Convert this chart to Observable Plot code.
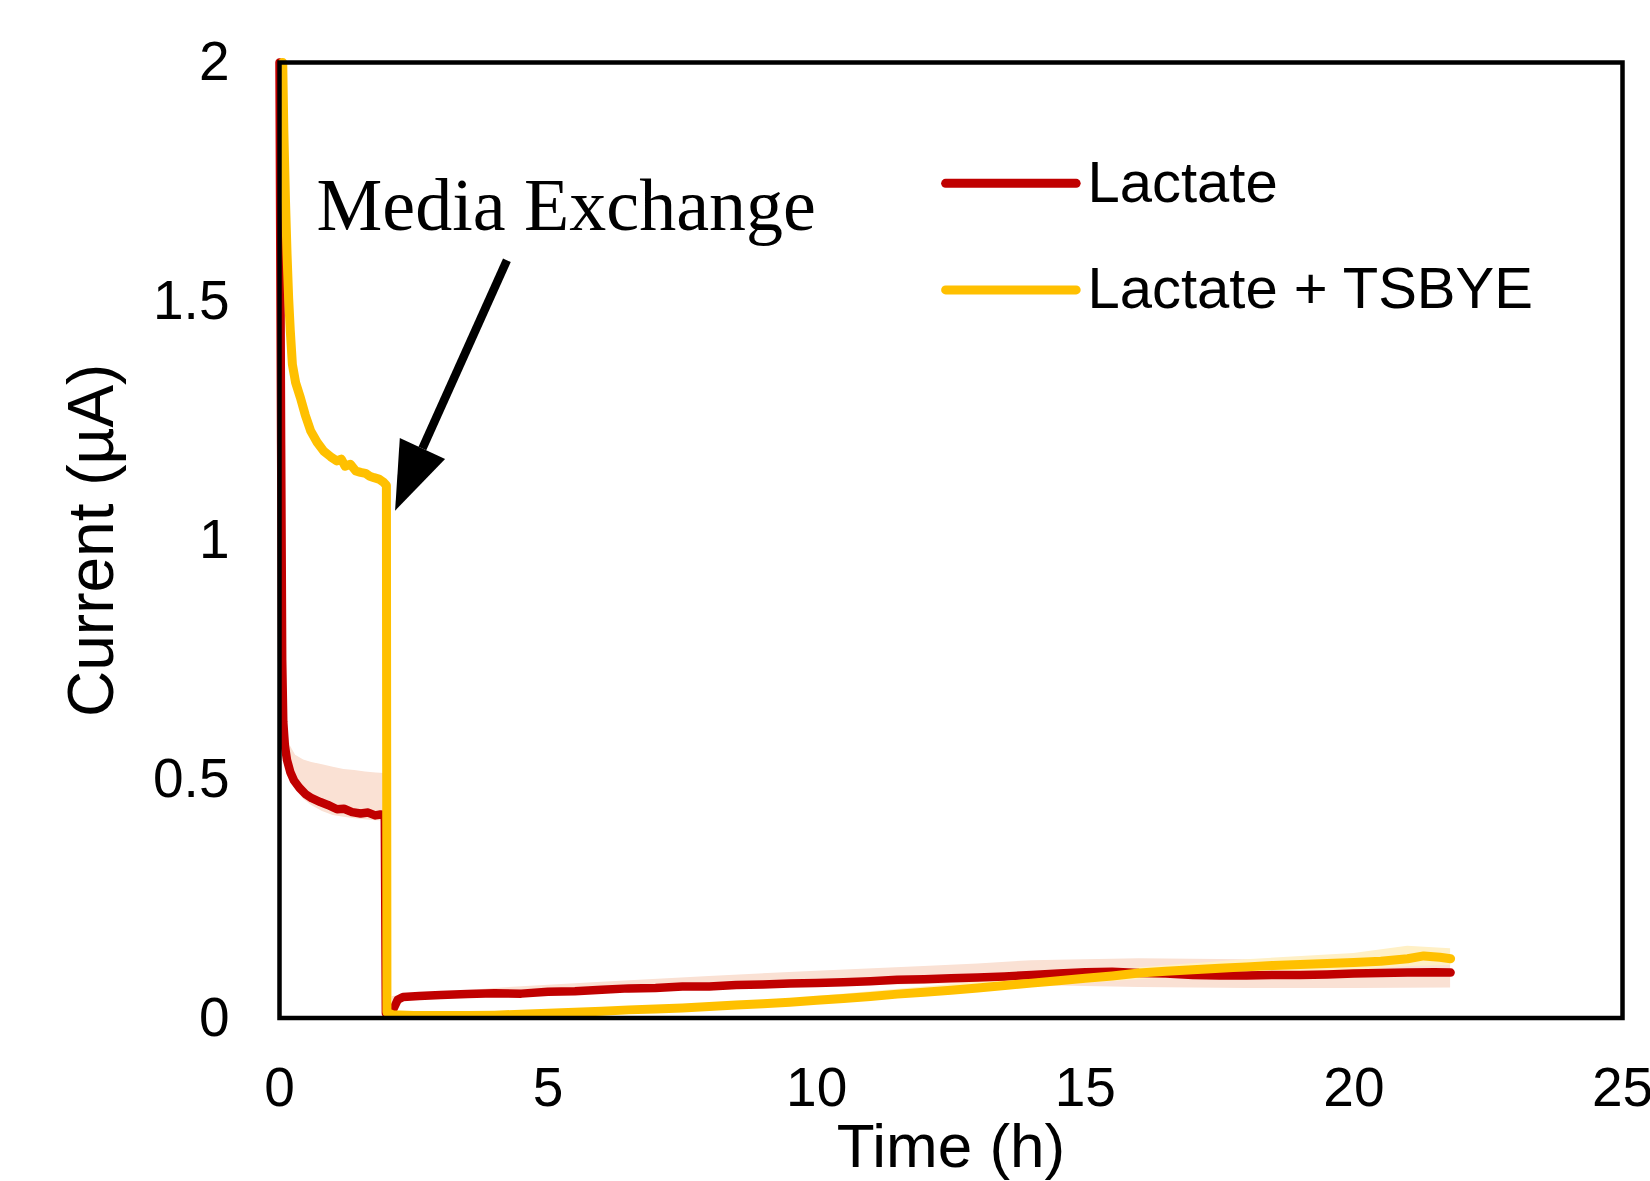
<!DOCTYPE html>
<html>
<head>
<meta charset="utf-8">
<script src="https://cdn.jsdelivr.net/npm/d3@7"></script>
<script src="https://cdn.jsdelivr.net/npm/@observablehq/plot@0.6"></script>
<style>
  html, body { margin: 0; padding: 0; background: #fff; }
  svg { display: block; }
</style>
</head>
<body>
<div id="chart"></div>
<script>
// ---------- Data ----------
const seriesNames = ["Lactate", "Lactate + TSBYE"];
const seriesColors = ["#C00000", "#FFC000"];
const bandColors = ["#FAE1D4", "#FFF0C6"];

// Lactate (red) mean current, µA
const lactateTime = [0, 0.03, 0.05, 0.07, 0.1, 0.14, 0.2, 0.27, 0.37, 0.48, 0.6, 0.76, 0.9, 1.07, 1.2, 1.35, 1.51, 1.65, 1.78, 1.88, 1.96,
  1.98, 2.1, 2.2, 2.3, 2.6, 3.0, 3.5, 4.0, 4.5, 5.0, 5.5, 6.0, 6.5, 7.0, 7.5, 8.0, 8.5, 9.0, 9.5, 10.0, 10.5, 11.0, 11.5, 12.0, 12.5,
  13.0, 13.5, 14.0, 14.5, 15.0, 15.5, 16.0, 16.5, 17.0, 17.5, 18.0, 18.5, 19.0, 19.5, 20.0, 20.5, 21.0, 21.5, 21.8];
const lactateCurrent = [2.0, 1.2, 0.75, 0.62, 0.57, 0.54, 0.515, 0.497, 0.482, 0.469, 0.46, 0.452, 0.446, 0.437, 0.438, 0.431, 0.428, 0.43, 0.424, 0.426, 0.425,
  0.01, 0.014, 0.038, 0.044, 0.046, 0.048, 0.05, 0.052, 0.051, 0.055, 0.056, 0.059, 0.062, 0.063, 0.066, 0.066, 0.069, 0.07, 0.072, 0.073, 0.075, 0.077, 0.08, 0.081, 0.083,
  0.085, 0.087, 0.09, 0.093, 0.096, 0.097, 0.094, 0.093, 0.09, 0.089, 0.089, 0.09, 0.09, 0.091, 0.093, 0.094, 0.095, 0.096, 0.095];

// Lactate spread band
const lactateBandTime = [0.06, 0.1, 0.15, 0.2, 0.3, 0.45, 0.6, 0.8, 1.0, 1.2, 1.4, 1.6, 1.8, 1.96,
  2.1, 4, 6, 8, 10, 12, 13, 14, 16, 18, 20, 21.8];
const lactateBandHigh = [0.66, 0.64, 0.6, 0.57, 0.55, 0.54, 0.535, 0.53, 0.525, 0.52, 0.518, 0.515, 0.513, 0.512,
  0.045, 0.062, 0.075, 0.087, 0.098, 0.108, 0.113, 0.12, 0.124, 0.122, 0.124, 0.124];
const lactateBandLow = [0.6, 0.55, 0.52, 0.5, 0.48, 0.458, 0.445, 0.432, 0.424, 0.42, 0.417, 0.415, 0.413, 0.413,
  0.035, 0.046, 0.053, 0.06, 0.066, 0.07, 0.072, 0.068, 0.064, 0.062, 0.062, 0.063];
const lactateBandSegment = [0,0,0,0,0,0,0,0,0,0,0,0,0,0, 1,1,1,1,1,1,1,1,1,1,1,1];

// Lactate + TSBYE (yellow) mean current, µA
const tsbyeTime = [0.06, 0.08, 0.11, 0.14, 0.17, 0.2, 0.24, 0.3, 0.39, 0.48, 0.58, 0.7, 0.82, 0.95, 1.07, 1.15, 1.22, 1.32, 1.42, 1.51, 1.6, 1.68, 1.76, 1.85, 1.93, 1.99,
  2.0, 2.1, 2.5, 3, 3.5, 4, 4.5, 5, 5.5, 6, 6.5, 7, 7.5, 8, 8.5, 9, 9.5, 10, 10.5, 11, 11.5, 12, 12.5, 13, 13.5, 14, 14.5, 15, 15.5, 16,
  16.5, 17, 17.5, 18, 18.5, 19, 19.5, 20, 20.5, 21, 21.3, 21.6, 21.8];
const tsbyeCurrent = [2.0, 1.86, 1.716, 1.6, 1.507, 1.44, 1.368, 1.33, 1.298, 1.262, 1.229, 1.205, 1.187, 1.175, 1.166, 1.17, 1.155, 1.159, 1.145, 1.142, 1.14, 1.134, 1.131, 1.128, 1.122, 1.115,
  0.012, 0.007, 0.005, 0.005, 0.005, 0.006, 0.008, 0.01, 0.012, 0.014, 0.017, 0.019, 0.021, 0.024, 0.027, 0.03, 0.033, 0.037, 0.041, 0.045, 0.05, 0.054, 0.058, 0.063, 0.068, 0.073, 0.078, 0.083, 0.088, 0.094,
  0.098, 0.101, 0.104, 0.107, 0.11, 0.112, 0.114, 0.116, 0.119, 0.124, 0.13, 0.127, 0.124];

// Lactate + TSBYE spread band
const tsbyeBandTime = [10, 12, 14, 16, 18, 20, 21, 21.8];
const tsbyeBandHigh = [0.045, 0.065, 0.085, 0.105, 0.122, 0.135, 0.15, 0.145];
const tsbyeBandLow = [0.035, 0.05, 0.065, 0.08, 0.092, 0.1, 0.108, 0.11];

// Axes
const xTicks = [0, 5, 10, 15, 20, 25];
const xTickLabels = ["0", "5", "10", "15", "20", "25"];
const yTicks = [0, 0.5, 1, 1.5, 2];
const yTickLabels = ["0", "0.5", "1", "1.5", "2"];
const xTitle = "Time (h)";
const yTitle = "Current (µA)";

// Annotation (data coordinates)
const annotationText = ["Media Exchange"];
const annotationTextPos = [{t: 0.69, v: 1.65}];
const arrowShaft = [{t1: 4.233, v1: 1.586, t2: 2.66, v2: 1.192}];
const arrowTip = [{t: 2.152, v: 1.062}];

// Legend positions (data coordinates)
const legendLineStart = 12.40, legendLineEnd = 14.83, legendTextT = 15.04;
const legendV = [1.747, 1.524];

// ---------- Tables ----------
const lactate = lactateTime.map((t, i) => ({t, v: lactateCurrent[i]}));
const tsbye = tsbyeTime.map((t, i) => ({t, v: tsbyeCurrent[i]}));
const lactateBand = lactateBandTime.map((t, i) => ({t, hi: lactateBandHigh[i], lo: lactateBandLow[i], seg: lactateBandSegment[i]}));
const tsbyeBand = tsbyeBandTime.map((t, i) => ({t, hi: tsbyeBandHigh[i], lo: tsbyeBandLow[i]}));
const legend = seriesNames.map((name, i) => ({name, color: seriesColors[i], v: legendV[i]}));

const arrowHead = {
  draw(context) {
    context.moveTo(0, 0);
    context.lineTo(4.7, -72.7);
    context.lineTo(50, -51.7);
    context.closePath();
  }
};

const sans = "'Liberation Sans', Arial, Helvetica, sans-serif";

const chart = Plot.plot({
  width: 1650,
  height: 1181,
  marginLeft: 279,
  marginRight: 28,
  marginTop: 62,
  marginBottom: 163.5,
  style: {fontFamily: sans, fontSize: "55px", background: "#fff", color: "#000", overflow: "visible"},
  x: {domain: [0, 25], ticks: xTicks, tickSize: 0, tickPadding: 49, tickFormat: d => xTickLabels[xTicks.indexOf(d)], label: null},
  y: {domain: [0, 2], ticks: yTicks, tickSize: 0, tickPadding: 50, tickFormat: d => yTickLabels[yTicks.indexOf(d)], label: null},
  marks: [
    Plot.areaY(lactateBand, {x: "t", y1: "lo", y2: "hi", z: "seg", fill: bandColors[0]}),
    Plot.areaY(tsbyeBand, {x: "t", y1: "lo", y2: "hi", fill: bandColors[1]}),
    Plot.line(lactate, {x: "t", y: "v", stroke: seriesColors[0], strokeWidth: 8.5, strokeLinejoin: "round", strokeLinecap: "round"}),
    Plot.line(tsbye, {x: "t", y: "v", stroke: seriesColors[1], strokeWidth: 9, strokeLinejoin: "round", strokeLinecap: "round"}),
    Plot.frame({stroke: "#000", strokeWidth: 4.5}),
    // axis titles
    Plot.text([xTitle], {frameAnchor: "bottom", dy: 149, lineAnchor: "bottom", fontSize: 62, fill: "#000"}),
    Plot.text([yTitle], {frameAnchor: "left", dx: -167, rotate: -90, lineAnchor: "bottom", textAnchor: "middle", fontSize: 64, fill: "#000"}),
    // annotation
    Plot.text(annotationTextPos, {x: "t", y: "v", text: () => annotationText[0], textAnchor: "start", lineAnchor: "bottom",
      fontFamily: "'Liberation Serif', 'Times New Roman', serif", fontSize: 74, fill: "#000"}),
    Plot.link(arrowShaft, {x1: "t1", y1: "v1", x2: "t2", y2: "v2", stroke: "#000", strokeWidth: 8.5}),
    Plot.dot(arrowTip, {x: "t", y: "v", symbol: arrowHead, r: 5, fill: "#000", stroke: null}),
    // legend
    Plot.link(legend, {x1: () => legendLineStart, x2: () => legendLineEnd, y1: "v", y2: "v", stroke: "color", strokeWidth: 9, strokeLinecap: "round"}),
    Plot.text(legend, {x: () => legendTextT, y: "v", text: "name", textAnchor: "start", lineAnchor: "middle", fontSize: 58, fill: "#000"})
  ]
});
document.getElementById("chart").appendChild(chart);
</script>
</body>
</html>
